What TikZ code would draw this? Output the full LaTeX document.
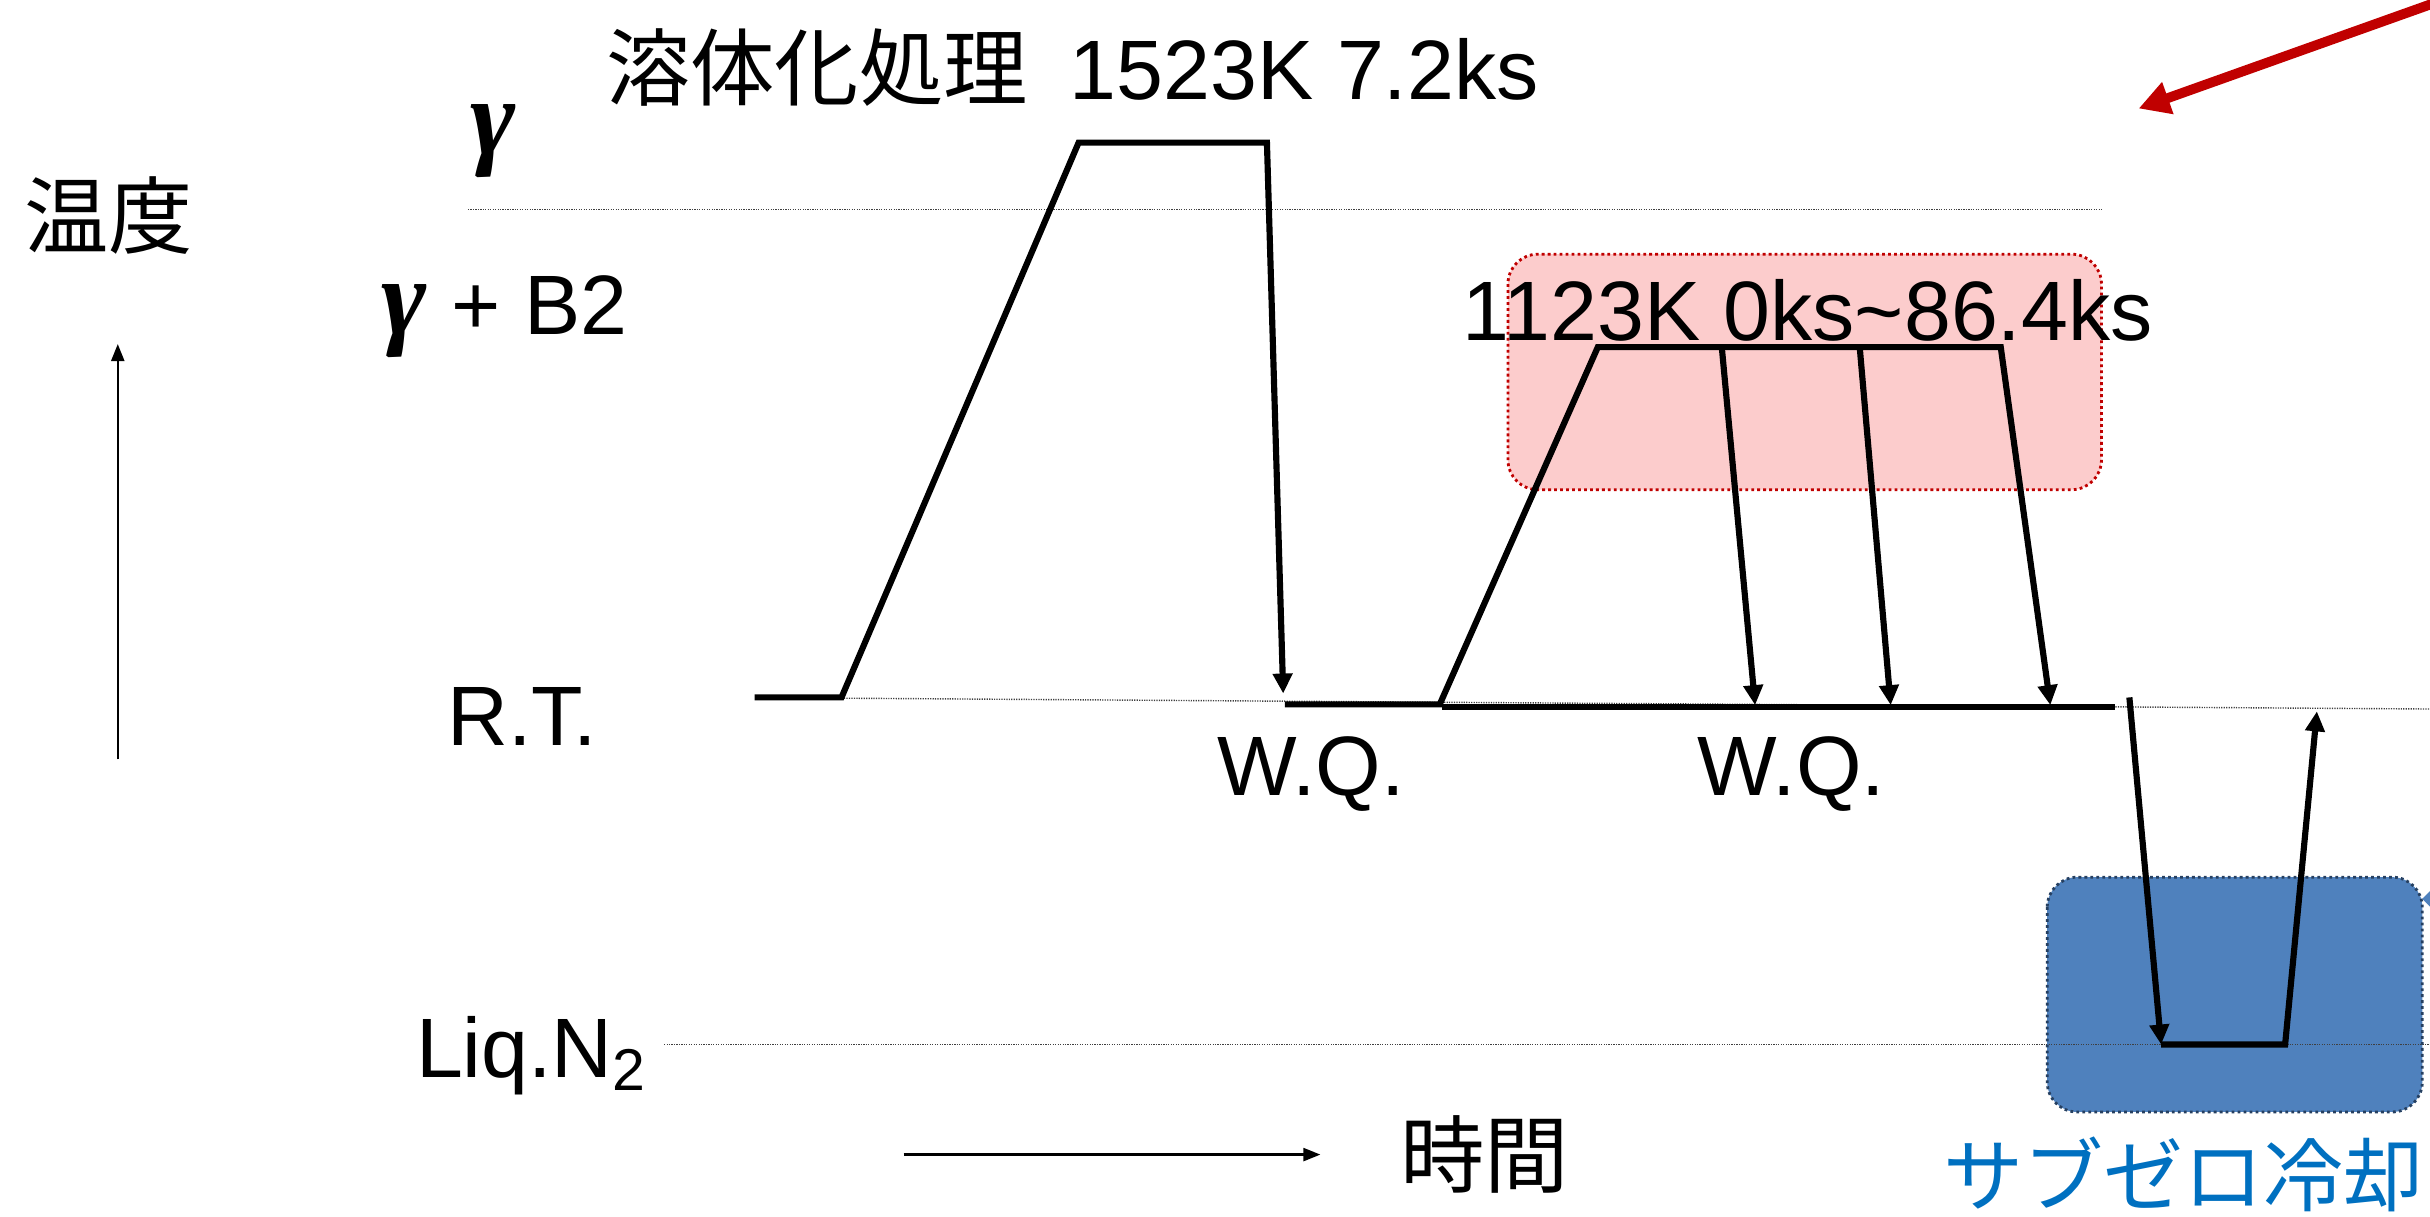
\documentclass[tikz,border=0pt]{standalone}
\usepackage{fontspec}
\setmainfont{Liberation Sans}
\newfontfamily\jp{Noto Sans CJK JP}
\newfontfamily\grk{Liberation Serif}
\usetikzlibrary{arrows.meta}
\definecolor{pinkfill}{RGB}{252,204,204}
\definecolor{darkred}{RGB}{192,0,0}
\definecolor{boxblue}{RGB}{79,129,189}
\definecolor{boxedge}{RGB}{38,64,97}
\definecolor{textblue}{RGB}{0,112,192}
\newcommand{\gammaglyph}{{\fontsize{31}{34}\selectfont\grk\bfseries\itshape γ}}
\begin{document}
\begin{tikzpicture}[x=0.015497cm,y=-0.015497cm,
  lbl/.style={inner sep=0pt, font=\fontsize{24}{28}\selectfont},
  jlbl/.style={inner sep=0pt, font=\fontsize{24}{28}\selectfont\jp},
  prof/.style={line width=1.75pt, line cap=butt},
  parr/.style={prof, -{Triangle[length=0.2cm,width=0.19cm]}},
  axisarr/.style={line width=0.65pt, -{Triangle[length=0.17cm,width=0.13cm]}},
  refline/.style={line width=0.4pt, black!75, dash pattern=on 0.35pt off 0.35pt},
  redbox/.style={fill=pinkfill, draw=darkred, line width=0.8pt, dash pattern=on 0.8pt off 0.9pt, rounded corners=0.3cm},
  bluebox/.style={fill=boxblue, draw=boxedge, line width=0.8pt, dash pattern=on 0.8pt off 0.9pt, rounded corners=0.3cm},
  redarr/.style={darkred, line width=2.8pt, -{Triangle[length=0.31cm,width=0.32cm]}},
]
\useasboundingbox (0,0) rectangle (1568,784.7);

% highlight boxes
\draw[redbox] (973,164) rectangle (1356,316);
\draw[bluebox] (1321,566) rectangle (1563,717.5);

% reference lines
\coordinate (g1) at (302,135);
\coordinate (g2) at (1356,135);
\coordinate (rt1) at (543,450.5);
\coordinate (rt2) at (1568,457.5);
\coordinate (n1) at (428.5,674);
\coordinate (n2) at (1568,674);
\draw[refline] (g1) -- (g2);
\draw[refline] (rt1) -- (rt2);
\draw[refline] (n1) -- (n2);

% solution treatment profile
\coordinate (a0) at (487,450);
\coordinate (a1) at (543,450);
\coordinate (a2) at (696,92);
\coordinate (a3) at (817.5,92);
\coordinate (a4) at (828,447.5);
\draw[parr] (a0) -- (a1) -- (a2) -- (a3) -- (a4);

% aging profile
\coordinate (b0) at (829,454.5);
\coordinate (b1) at (929,454.5);
\coordinate (b2) at (1031,224);
\coordinate (b3) at (1291,224);
\coordinate (b4) at (1323,455);
\draw[parr] (b0) -- (b1) -- (b2) -- (b3) -- (b4);
\coordinate (c1) at (1111,224);
\coordinate (c1e) at (1132.5,455);
\coordinate (c2) at (1200,224);
\coordinate (c2e) at (1220,455);
\draw[parr] (c1) -- (c1e);
\draw[parr] (c2) -- (c2e);
\coordinate (d0) at (930.5,456);
\coordinate (d1) at (1365,456);
\draw[prof] (d0) -- (d1);

% sub-zero profile
\coordinate (e0) at (1374,450);
\coordinate (e1) at (1394.5,674);
\coordinate (e2) at (1474.5,674);
\coordinate (e3) at (1495,459);
\draw[parr] (e0) -- (e1);
\draw[parr] (e1) -- (e2) -- (e3);

% axes
\coordinate (ya) at (76,490);
\coordinate (yb) at (76,222);
\coordinate (xa) at (583,745);
\coordinate (xb) at (852,745);
\draw[axisarr] (ya) -- (yb);
\draw[axisarr] (xa) -- (xb);

% red callout arrow
\coordinate (r0) at (1572,1.5);
\coordinate (r1) at (1380,70);
\draw[redarr] (r0) -- (r1);

% small blue callout tip
\fill[boxblue] (1563,580) -- (1568,575) -- (1568,585) -- cycle;

% labels
\node[lbl, anchor=base] (title) at (692,64) {{\jp 溶体化処理}\hspace{0.5em}1523K 7.2ks};
\node[inner sep=0pt] (gtop) at (318,91) {\gammaglyph};
\node[lbl, anchor=base west] (gb2) at (246,216) {\gammaglyph\kern7pt+ B2};
\node[jlbl] (temp) at (70,139) {温度};
\node[lbl, anchor=base] (aging) at (1166.5,219.5) {1123K 0ks\textasciitilde86.4ks};
\node[lbl, anchor=base] (rt) at (337,481) {R.T.};
\node[lbl, anchor=base] (wq1) at (846,513) {W.Q.};
\node[lbl, anchor=base] (wq2) at (1156,513) {W.Q.};
\node[lbl, anchor=base west] (ln2) at (268,695.5) {Liq.N\textsubscript{2}};
\node[jlbl] (time) at (958,745) {時間};
\node[inner sep=0pt, font=\fontsize{22.8}{26}\selectfont\jp, text=textblue] (subzero) at (1409,757.5) {サブゼロ冷却};
\end{tikzpicture}
\end{document}
